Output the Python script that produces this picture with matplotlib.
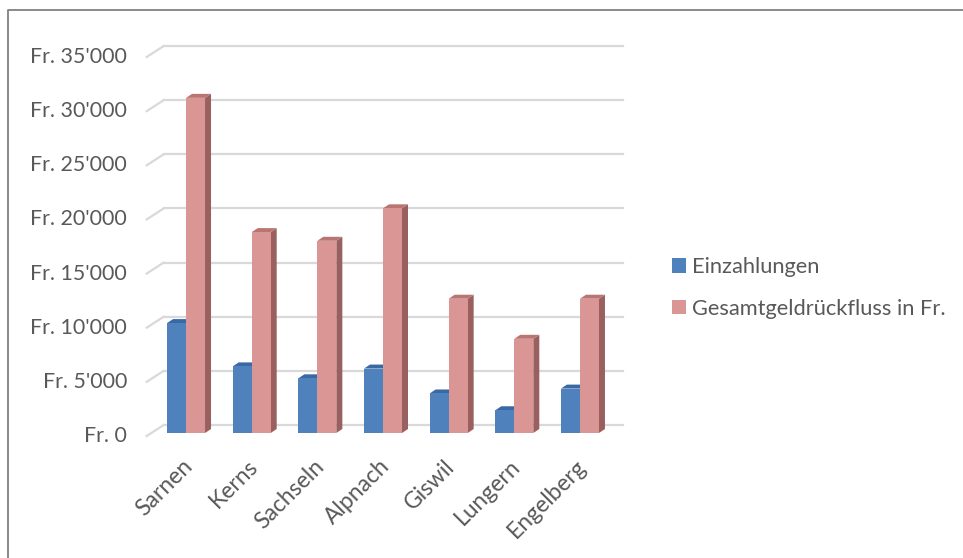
import matplotlib
matplotlib.use("Agg")
import matplotlib.pyplot as plt
from matplotlib.patches import Polygon
from matplotlib.transforms import ScaledTranslation
from matplotlib.lines import Line2D

categories = ["Sarnen", "Kerns", "Sachseln", "Alpnach", "Giswil", "Lungern", "Engelberg"]
einzahlungen = [10150, 6150, 5050, 5950, 3650, 2100, 4100]
rueckfluss = [30950, 18550, 17750, 20750, 12400, 8700, 12400]
series_names = ["Einzahlungen", "Gesamtgeldrückfluss in Fr."]
y_ticks = [0, 5000, 10000, 15000, 20000, 25000, 30000, 35000]
y_labels = ["Fr. 0", "Fr. 5'000", "Fr. 10'000", "Fr. 15'000", "Fr. 20'000",
            "Fr. 25'000", "Fr. 30'000", "Fr. 35'000"]

plt.rcParams['font.family'] = ['Lato', 'DejaVu Sans']
TXT = "#595959"
BLUE, BLUE_TOP, BLUE_SIDE = "#4f81bd", "#3a68a3", "#36608f"
PINK, PINK_TOP, PINK_SIDE = "#d99694", "#b97572", "#9a605f"
GRID = "#d9d9d9"

W, H, DPI = 963, 558, 100
fig = plt.figure(figsize=(W / DPI, H / DPI), dpi=DPI)
fig.patch.set_facecolor("white")

# chart frame (left and top edges visible only)
fig.add_artist(Line2D([7.5 / W, 7.5 / W, 1.01], [-0.01, (H - 10) / H, (H - 10) / H],
                      transform=fig.transFigure, color="#808080", lw=1.3))

left_px, right_px, bot_px, top_px = 153.2, 612.8, 433, 54
ax = fig.add_axes([left_px / W, (H - bot_px) / H, (right_px - left_px) / W, (bot_px - top_px) / H])
ax.set_xlim(-0.5, len(categories) - 0.5)
ax.set_ylim(0, 35000)
ax.axis("off")

def off(dx_px, dy_px):
    return ax.transData + ScaledTranslation(dx_px / DPI, dy_px / DPI, fig.dpi_scale_trans)

back = off(10.5, 8)
# gridlines (back wall + floor stubs)
for v in y_ticks:
    ax.plot([-0.5, len(categories) - 0.5], [v, v], color=GRID, lw=1.6, transform=back,
            clip_on=False, zorder=1)
    p_front = ax.transData.transform((-0.5, v)) + [-6.5, -3]
    p_back = ax.transData.transform((-0.5, v)) + [10.5, 8]
    fig.add_artist(Line2D([p_front[0] / W, p_back[0] / W], [p_front[1] / H, p_back[1] / H],
                          transform=fig.transFigure, color=GRID, lw=1.6, zorder=1))

for v, lab in zip(y_ticks, y_labels):
    ax.text(-0.5, v, lab, transform=off(-26, -3), ha="right", va="center",
            fontsize=15.4, color=TXT)

# depth in data units
px_per_x = (right_px - left_px) / len(categories)
px_per_y = (bot_px - top_px) / 35000
DXp, DYp = 6, 4
DX, DY = DXp / px_per_x, DYp / px_per_y

bw = 19 / px_per_x
x = list(range(len(categories)))

def bar3d(xc, vals, front, top, side, label):
    for xi, v in zip(xc, vals):
        x0, x1 = xi - bw / 2, xi + bw / 2
        ax.add_patch(Polygon([(x1, 0), (x1, v), (x1 + DX, v + DY), (x1 + DX, DY)],
                             closed=True, facecolor=side, edgecolor="none", zorder=3, clip_on=False))
        ax.add_patch(Polygon([(x0, v), (x1, v), (x1 + DX, v + DY), (x0 + DX, v + DY)],
                             closed=True, facecolor=top, edgecolor="none", zorder=3, clip_on=False))
    ax.bar(xc, vals, width=bw, color=front, zorder=3, label=label, clip_on=False)

bar3d([xi - bw / 2 for xi in x], einzahlungen, BLUE, BLUE_TOP, BLUE_SIDE, series_names[0])
bar3d([xi + bw / 2 for xi in x], rueckfluss, PINK, PINK_TOP, PINK_SIDE, series_names[1])

for xi, cat in zip(x, categories):
    ax.text(xi, 0, cat, transform=off(3, -30), rotation=45, rotation_mode="anchor",
            ha="right", va="center", fontsize=16.5, color=TXT)

leg = ax.legend(loc="center left", bbox_to_anchor=(672 / W, (H - 288) / H),
                bbox_transform=fig.transFigure, frameon=False, fontsize=15.75,
                handlelength=0.64, handleheight=0.64, handletextpad=0.28,
                labelspacing=1.0, borderaxespad=0, borderpad=0, labelcolor=TXT)

fig.savefig("out.png", dpi=DPI, facecolor="white")
